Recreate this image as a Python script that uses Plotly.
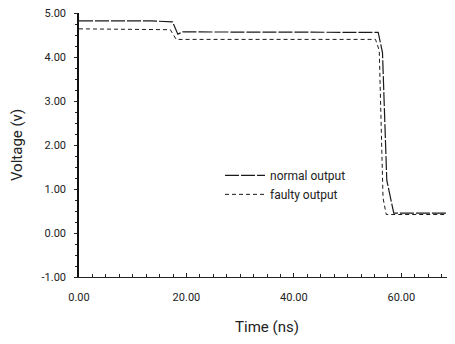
import plotly.graph_objects as go

# Data
normal_t = [0, 13.3, 17.4, 18.4, 19.3, 40, 55.7, 56.5, 57.3, 58.6, 70]
normal_v = [4.82, 4.82, 4.80, 4.52, 4.57, 4.56, 4.56, 4.1, 1.2, 0.45, 0.45]
faulty_t = [0, 17.0, 18.1, 55.2, 55.9, 56.6, 57.2, 70]
faulty_v = [4.64, 4.62, 4.40, 4.40, 4.15, 0.8, 0.42, 0.42]

x_ticks = [0, 20, 40, 60]
y_ticks = [-1, 0, 1, 2, 3, 4, 5]

FONT = "Roboto, Liberation Sans, sans-serif"

fig = go.Figure()
fig.add_trace(go.Scatter(x=normal_t, y=normal_v, mode="lines", name="normal output",
                         line=dict(color="#1a1a1a", width=1.2, dash="14px,2px")))
fig.add_trace(go.Scatter(x=faulty_t, y=faulty_v, mode="lines", name="faulty output",
                         line=dict(color="#1a1a1a", width=1, dash="4px,3px")))

fig.update_layout(
    width=455, height=344,
    margin=dict(l=71, r=8, t=5, b=75, autoexpand=False),
    plot_bgcolor="white", paper_bgcolor="white",
    font=dict(family=FONT, color="#222", size=11),
    showlegend=True,
    legend=dict(x=0.375, y=0.44, xanchor="left", yanchor="top",
                bgcolor="rgba(0,0,0,0)", font=dict(size=12, family=FONT),
                itemwidth=40, tracegroupgap=2),
)
fig.update_xaxes(
    range=[0, 70], tickvals=x_ticks, ticktext=[f"{v:.2f}" for v in x_ticks],
    showline=True, linecolor="#222", linewidth=1, showgrid=False, zeroline=False,
    ticks="inside", ticklen=4, tickcolor="#222", automargin=False,
    minor=dict(dtick=2.5, ticks="inside", ticklen=3, tickcolor="#222"),
    ticklabelstandoff=10, ticklabeloverflow="allow",
    title=dict(text="Time (ns)", font=dict(size=15, family=FONT), standoff=18),
)
fig.update_yaxes(
    range=[-1, 5], tickvals=y_ticks, ticktext=[f"{v:.2f}" for v in y_ticks],
    showline=True, linecolor="#111", linewidth=1.5, showgrid=False, zeroline=False,
    ticks="outside", ticklen=3, tickcolor="#222", automargin=False,
    minor=dict(dtick=0.25, ticks="outside", ticklen=2, tickcolor="#222"),
    ticklabelstandoff=6, ticklabeloverflow="allow",
    title=dict(text="Voltage (v)", font=dict(size=15, family=FONT), standoff=18),
)

fig.write_html("out.html")
